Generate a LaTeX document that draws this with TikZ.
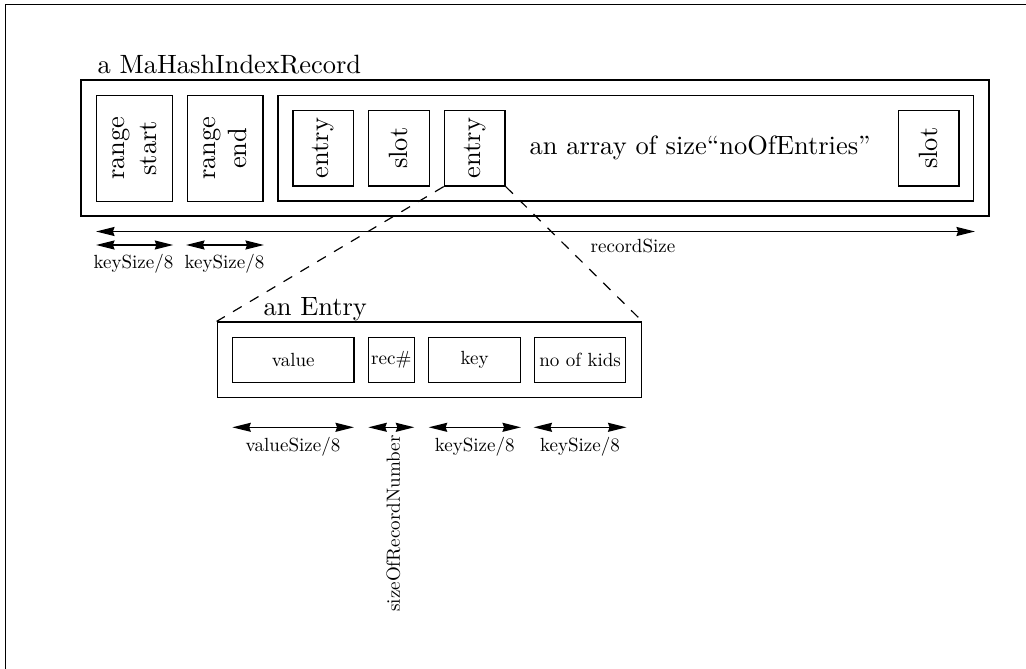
\documentclass[tikz,border=0pt]{standalone}
\usepackage{graphicx}
\usetikzlibrary{arrows.meta}
\newdimen\upx
\upx=0.378pt
% small labels: the text face scaled down
\newcommand\lbl[1]{\scalebox{0.72}{#1}}
\tikzset{
  tip/.tip={Stealth[length=7pt,width=3.4pt,inset=0.6pt]},
  box/.style={draw, line width=0.5pt, inner sep=0pt},
  vbox/.style={box, rotate=90, align=center},
  dim/.style={line width=0.5pt, tip-tip},
  small/.style={inner sep=0pt},
  link/.style={line width=0.45pt, dash pattern=on 3.8pt off 3.6pt}
}
\begin{document}
\begin{tikzpicture}[x=0.378pt, y=-0.378pt]
\useasboundingbox (0,0) rectangle (1026,669);
% page frame
\draw[line width=0.6pt] (1026,4.5) -- (5.5,4.5) -- (5.5,669);

% the record
\node[anchor=base west, inner sep=0pt] (title) at (97,73.3) {a MaHashIndexRecord};
\node[box, minimum width=908*\upx, minimum height=136*\upx] (rec) at (535,148) {};
\node[vbox, minimum width=106*\upx, minimum height=75.6*\upx] (rstart) at (134.5,148.3) {range\\start};
\node[vbox, minimum width=106*\upx, minimum height=75.6*\upx] (rend) at (225.2,148.3) {range\\end};
\node[box, minimum width=695.7*\upx, minimum height=105.7*\upx] (arr) at (625.9,148.2) {};
\node[vbox, minimum width=75.5*\upx, minimum height=60.7*\upx] (e1) at (323.4,148.2) {entry};
\node[vbox, minimum width=75.5*\upx, minimum height=60.7*\upx] (s1) at (398.9,148.2) {slot};
\node[vbox, minimum width=75.5*\upx, minimum height=60.7*\upx] (e2) at (474.7,148.2) {entry};
\node[vbox, minimum width=75.5*\upx, minimum height=60.7*\upx] (s2) at (928.8,148.2) {slot};
\node[anchor=base west, inner sep=0pt] (arrtext) at (529,155) {an array of size``noOfEntries''};

% record dimensions
\coordinate (rs0) at (96,231.5);
\coordinate (rs1) at (975,231.5);
\draw[dim] (rs0) -- (rs1);
\node[small, anchor=base] (rslab) at (633,253) {\lbl{recordSize}};
\coordinate (k10) at (96,245);
\coordinate (k11) at (173.3,245);
\coordinate (k20) at (186,245);
\coordinate (k21) at (264,245);
\draw[dim] (k10) -- (k11);
\draw[dim] (k20) -- (k21);
\node[small] (k1lab) at (133.5,264) {\lbl{keySize/8}};
\node[small] (k2lab) at (224.5,264) {\lbl{keySize/8}};

% an entry
\node[anchor=base west, inner sep=0pt] (etitle) at (263,316) {an Entry};
\node[box, minimum width=424.4*\upx, minimum height=75.3*\upx] (ent) at (429.5,359.7) {};
\node[box, minimum width=121.7*\upx, minimum height=45*\upx] (val) at (293.2,359.8) {\lbl{value}};
\node[box, minimum width=46*\upx, minimum height=45*\upx] (recno) at (391.3,359.8) {\lbl{rec\#}};
\node[box, minimum width=92*\upx, minimum height=45*\upx] (key) at (474.7,359.8) {\lbl{key}};
\node[box, minimum width=91*\upx, minimum height=45*\upx] (kids) at (580.2,359.8) {\lbl{no of kids}};

% zoom lines from the record entry to the entry layout
\draw[link] (e2.north west) -- (ent.north west);
\draw[link] (e2.south west) -- (ent.north east);

% entry dimensions
\coordinate (v0) at (232.3,427.3);
\coordinate (v1) at (354,427.3);
\coordinate (r0) at (368.3,427.3);
\coordinate (r1) at (414.3,427.3);
\coordinate (kk0) at (428.7,427.3);
\coordinate (kk1) at (521,427.3);
\coordinate (n0) at (533.5,427.3);
\coordinate (n1) at (626.5,427.3);
\draw[dim] (v0) -- (v1);
\draw[dim] (r0) -- (r1);
\draw[dim] (kk0) -- (kk1);
\draw[dim] (n0) -- (n1);
\node[small] (vlab) at (293,447) {\lbl{valueSize/8}};
\node[small, rotate=90, anchor=east] (rlab) at (393.3,435) {\lbl{sizeOfRecordNumber}};
\node[small] (klab) at (474.7,447) {\lbl{keySize/8}};
\node[small] (nlab) at (580,447) {\lbl{keySize/8}};
\end{tikzpicture}
\end{document}
